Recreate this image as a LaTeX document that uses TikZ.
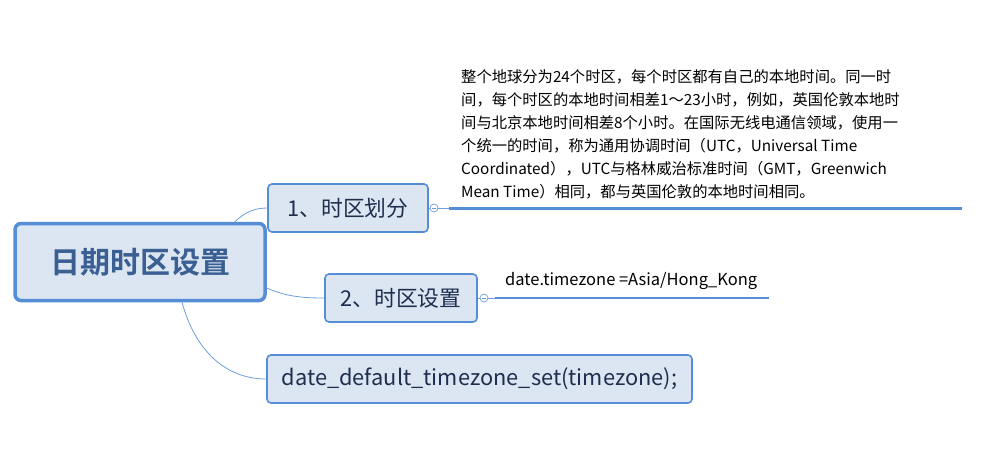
\documentclass[tikz,border=0pt]{standalone}
\usepackage{fontspec}
\setmainfont{Noto Sans CJK SC}[BoldFont={Noto Sans CJK SC Bold}]
\usetikzlibrary{calc}
\definecolor{bord}{HTML}{558ED5}
\definecolor{fillc}{HTML}{DCE6F2}
\definecolor{titc}{HTML}{3A5F92}
\definecolor{txtc}{HTML}{1F2E4F}
\definecolor{linkc}{HTML}{6C9FDB}
\tikzset{
  topic/.style={draw=bord, fill=fillc, line width=1.6pt, rounded corners=4pt, inner sep=0pt, text=txtc, font=\fontsize{21.8}{24}\selectfont},
  root/.style={draw=bord, fill=fillc, line width=3.5pt, rounded corners=6pt, inner sep=0pt, text=titc, font=\fontsize{30}{34}\bfseries},
  link/.style={draw=linkc, line width=0.8pt},
  knob/.style={circle, draw=linkc, fill=white, line width=0.7pt, minimum size=8pt, inner sep=0pt,
    path picture={\draw[linkc, line width=0.6pt] ([xshift=-2pt]path picture bounding box.center) -- ([xshift=2pt]path picture bounding box.center);}},
  uline/.style={draw=bord, line width=3pt},
  note/.style={anchor=north west, inner sep=0pt, align=left, text=black}
}
\begin{document}
\begin{tikzpicture}[x=1pt,y=-1pt]
\useasboundingbox (0,0) rectangle (993,466);
% nodes
\node[root, minimum width=250pt, minimum height=77pt] (c) at (140,262) {日期时区设置};
\node[topic, minimum width=160pt, minimum height=48pt] (n1) at (348,208) {1、时区划分};
\node[topic, minimum width=152pt, minimum height=48pt] (n2) at (401,298) {2、时区设置};
\node[topic, minimum width=425pt, minimum height=48pt] (n3) at (479.5,379) {date\_default\_timezone\_set(timezone);};
% collapse knobs
\node[knob] (k1) at (434,208) {};
\node[knob] (k2) at (484,298) {};
\coordinate (a1) at (449,208);
\coordinate (b1) at (962,208);
\coordinate (a2) at (495,298);
\coordinate (b2) at (769,298);
% note texts
\node[note, font=\fontsize{15.3}{23}\selectfont] (t1) at (461,69) {整个地球分为24个时区，每个时区都有自己的本地时间。同一时\\间，每个时区的本地时间相差1～23小时，例如，英国伦敦本地时\\间与北京本地时间相差8个小时。在国际无线电通信领域，使用一\\个统一的时间，称为通用协调时间（UTC，Universal Time\\Coordinated），UTC与格林威治标准时间（GMT，Greenwich\\Mean Time）相同，都与英国伦敦的本地时间相同。};
\node[note, font=\fontsize{16.5}{20}\selectfont] (t2) at (505,272) {date.timezone =Asia/Hong\_Kong};
% connectors from root
\draw[link] ([xshift=-32pt]c.north east) .. controls (245,212) and (255,208) .. (n1.west);
\draw[link] ([yshift=-26pt]c.east) .. controls (285,296) and (300,298) .. (n2.west);
\draw[link] ([xshift=42pt]c.south) .. controls (195,350) and (225,379) .. (n3.west);
% knob links and underlines
\draw[link] (n1.east) -- (k1.west);
\draw[link] (k1.east) -- (a1);
\draw[uline] (a1) -- (b1);
\draw[link] (n2.east) -- (k2.west);
\draw[link] (k2.east) -- (a2);
\draw[uline, line width=2.5pt] (a2) -- (b2);
\end{tikzpicture}
\end{document}
